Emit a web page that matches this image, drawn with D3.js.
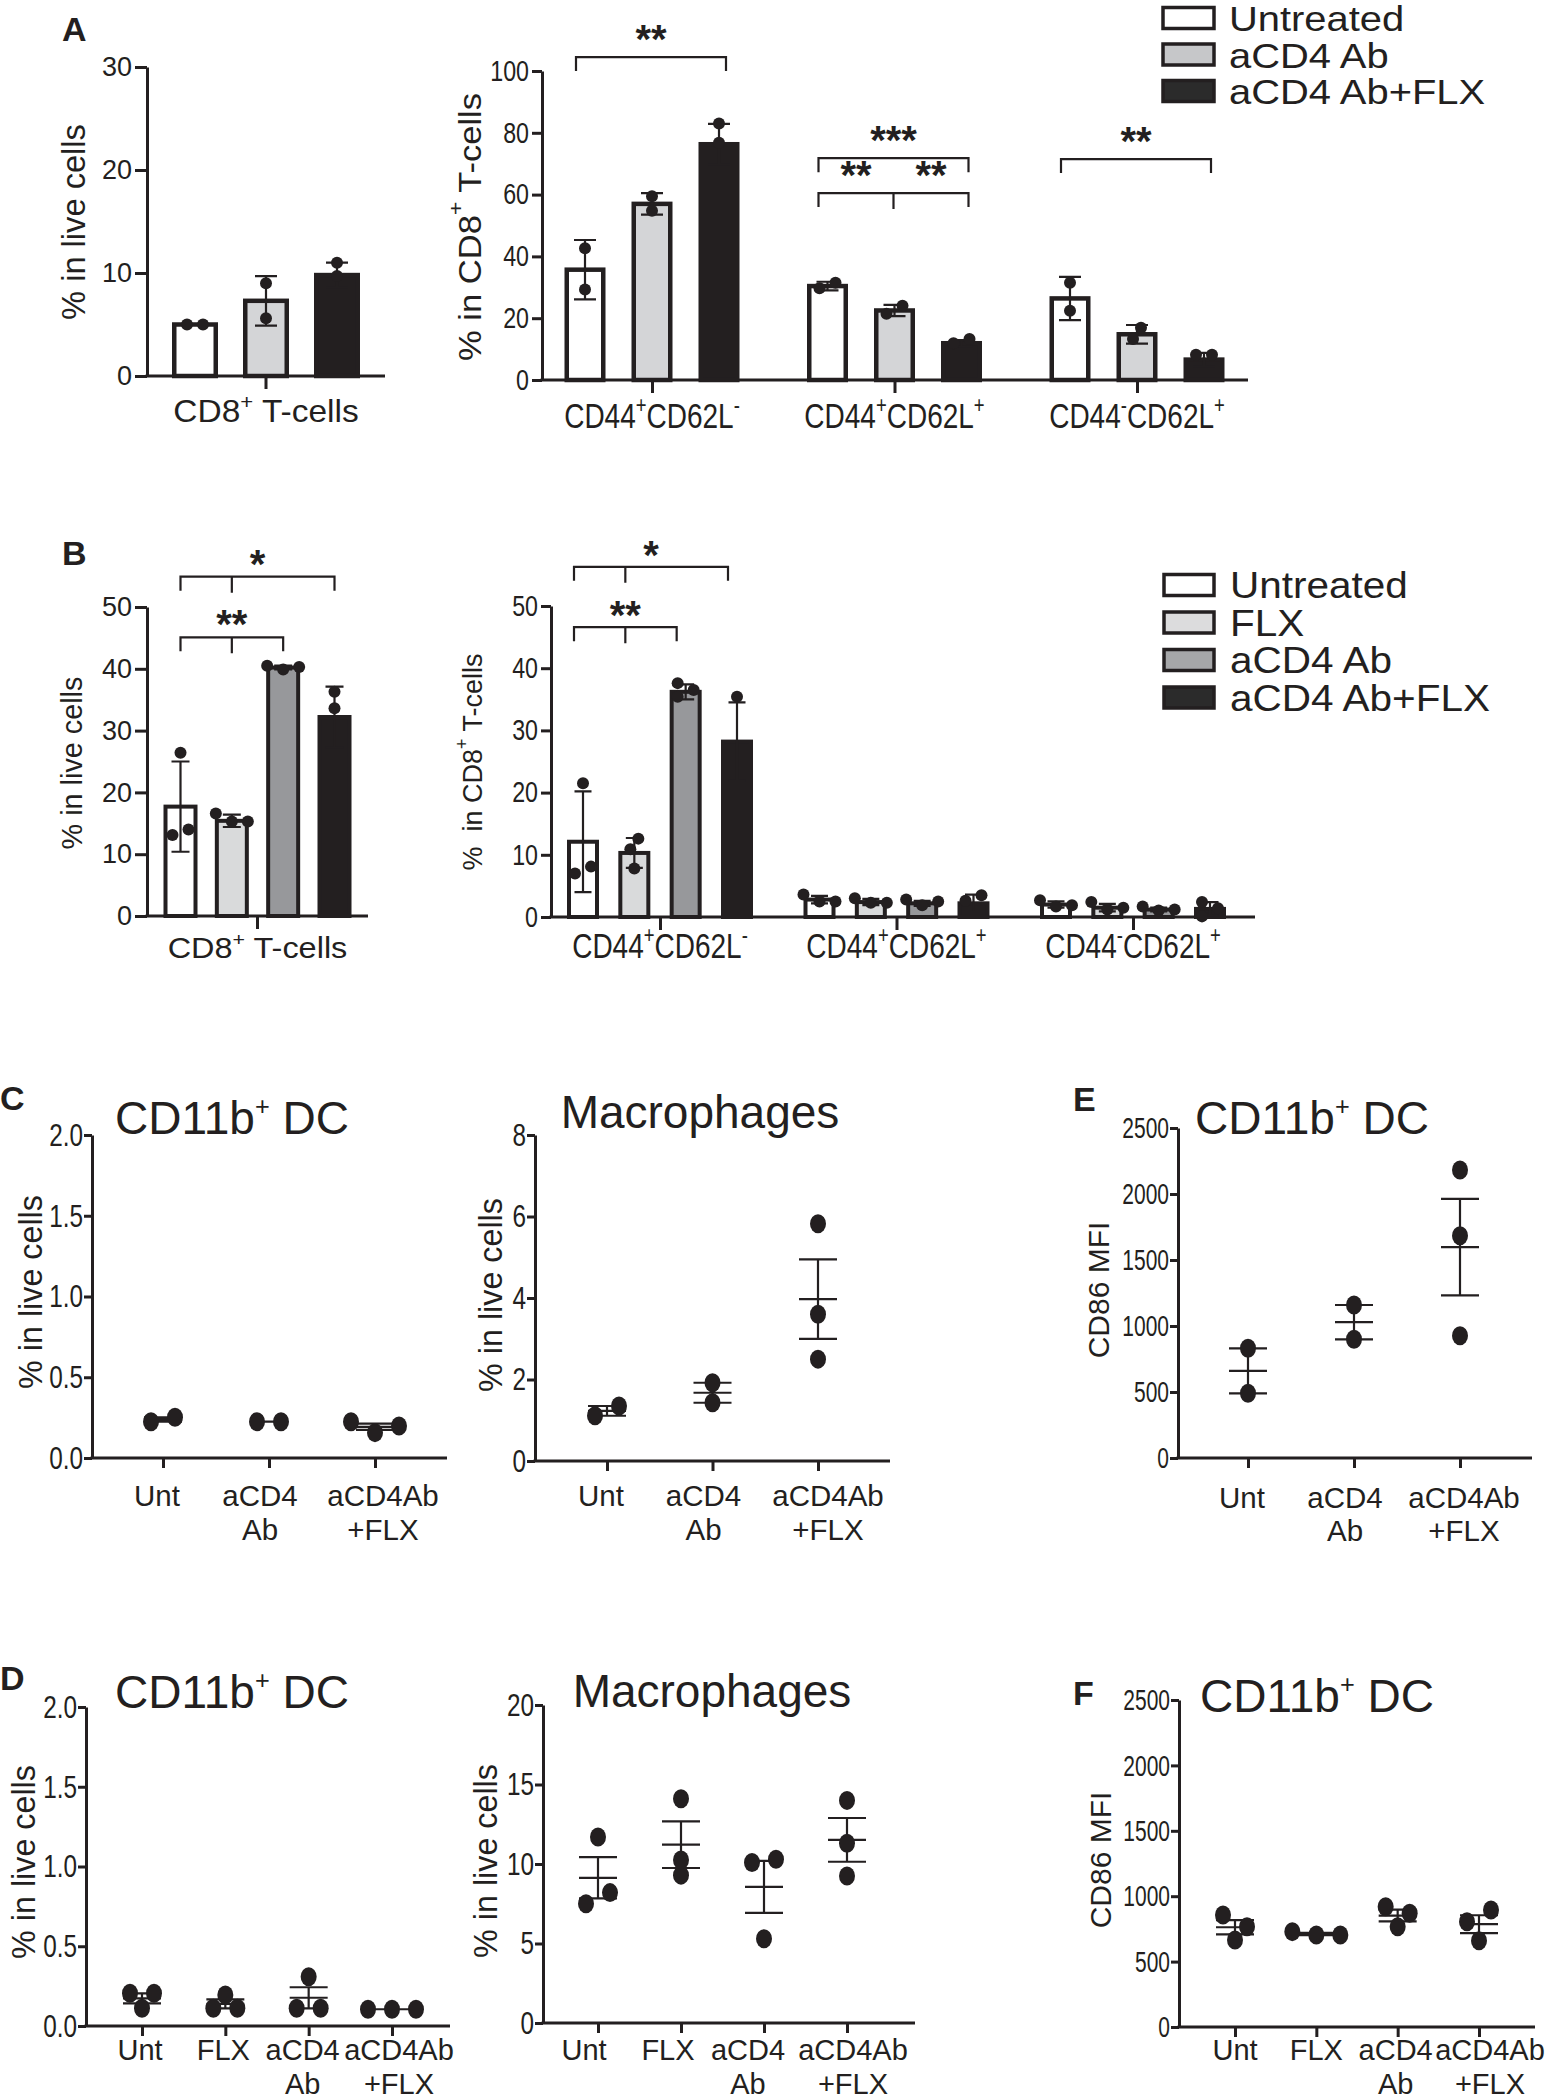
<!DOCTYPE html>
<html><head><meta charset="utf-8">
<script src="https://cdn.jsdelivr.net/npm/d3@7"></script>
<style>
html,body{margin:0;padding:0;background:#fff;}
svg{display:block;}
text{font-family:"Liberation Sans", Arial, Helvetica, sans-serif;}
</style></head><body>
<svg id="fig" width="1548" height="2100"></svg>
<script>
// ================= DATA =================
// ---- Panel A, left: CD8+ T-cells (% in live cells), mean ± SD with individual mice
const seriesA = ["Untreated", "aCD4 Ab", "aCD4 Ab+FLX"];
const a1Groups = ["CD8^{+} T-cells"];
const a1Mean = [[5.0, 7.3, 9.8]];
const a1Sd = [[0.0, 2.4, 1.2]];
const a1Points = [[[5.0, 5.0], [9.0, 5.6], [11.0, 9.7]]];
const a1Ticks = [0, 10, 20, 30];

// ---- Panel A, right: subsets (% in CD8+ T-cells)
const a2Groups = ["CD44^{+}CD62L^{-}", "CD44^{+}CD62L^{+}", "CD44^{-}CD62L^{+}"];
const a2Mean = [[35.7, 57.0, 76.3], [30.4, 22.5, 11.9], [26.4, 14.8, 6.6]];
const a2Sd = [[9.6, 3.5, 6.6], [1.4, 1.8, 1.0], [7.0, 3.0, 2.2]];
const a2Points = [
  [[42.6, 29.3], [59.5, 54.8], [83.0, 76.8]],
  [[29.7, 31.5], [21.4, 24.0], [13.3, 11.9]],
  [[31.5, 22.4], [16.9, 13.3], [8.2, 8.2]]
];
const a2Ticks = [0, 20, 40, 60, 80, 100];
const a2Sig = [
  {group: 0, from: 0, to: 2, level: 104.5, labels: ["**"]},
  {group: 1, from: 0, to: 2, level: 71.8, labels: ["***"]},
  {group: 1, from: 0, to: 2, mid: 1, level: 60.5, labels: ["**", "**"]},
  {group: 2, from: 0, to: 2, level: 71.5, labels: ["**"]}
];

// ---- Panel B, left
const seriesB = ["Untreated", "FLX", "aCD4 Ab", "aCD4 Ab+FLX"];
const b1Groups = ["CD8^{+} T-cells"];
const b1Mean = [[17.7, 15.4, 40.2, 32.2]];
const b1Sd = [[7.3, 1.0, 0.3, 4.9]];
const b1Points = [[[26.4, 13.1, 14.0], [16.6, 15.3, 15.3], [39.9, 40.5, 40.3], [36.3, 33.6]]];
const b1Ticks = [0, 10, 20, 30, 40, 50];
const b1Sig = [
  {group: 0, from: 0, to: 3, mid: 1, level: 54.9, labels: ["*"]},
  {group: 0, from: 0, to: 2, mid: 1, level: 45.1, labels: ["**"]}
];

// ---- Panel B, right
const b2Groups = ["CD44^{+}CD62L^{-}", "CD44^{+}CD62L^{+}", "CD44^{-}CD62L^{+}"];
const b2Mean = [[12.1, 10.3, 36.2, 28.2], [2.8, 2.4, 2.2, 2.2], [2.0, 1.5, 1.2, 1.3]];
const b2Sd = [[8.1, 2.4, 1.2, 6.3], [0.6, 0.5, 0.4, 1.4], [0.5, 0.6, 0.3, 1.1]];
const b2Points = [
  [[21.5, 7.0, 8.1], [12.6, 10.9, 7.8], [37.6, 35.4, 36.5], [35.4]],
  [[3.6, 2.5, 2.5], [3.0, 2.3, 2.3], [2.8, 2.5, 1.9], [3.5, 2.6]],
  [[2.7, 1.7, 1.9], [2.4, 1.2, 1.5], [1.7, 1.05, 1.2], [2.4, 1.4, 0.1]]
];
const b2Ticks = [0, 10, 20, 30, 40, 50];
const b2Sig = [
  {group: 0, from: 0, to: 3, mid: 1, level: 56.3, labels: ["*"]},
  {group: 0, from: 0, to: 2, mid: 1, level: 46.6, labels: ["**"]}
];

// ---- Panels C-F: scatter dot plots (mean ± SEM computed from the points)
const cats3 = ["Unt", "aCD4 Ab", "aCD4Ab +FLX"];
const cats3Lines = [["Unt"], ["aCD4", "Ab"], ["aCD4Ab", "+FLX"]];
const cats4 = ["Unt", "FLX", "aCD4 Ab", "aCD4Ab +FLX"];
const cats4Lines = [["Unt"], ["FLX"], ["aCD4", "Ab"], ["aCD4Ab", "+FLX"]];

const cDC = [[0.225, 0.252], [0.225, 0.225], [0.157, 0.225, 0.198]];
const cMac = [[1.11, 1.35], [1.92, 1.43], [5.82, 3.60, 2.50]];
const eMFI = [[831, 490], [1159, 899], [2182, 1684, 926]];
const dDC = [[0.205, 0.205, 0.111], [0.194, 0.111, 0.111], [0.309, 0.111, 0.111], [0.105, 0.105, 0.105]];
const dMac = [[11.7, 7.5, 8.2], [14.1, 9.3, 10.25], [10.3, 10.1, 5.3], [14.0, 11.3, 9.25]];
const fMFI = [[856, 767, 665], [703, 729, 703], [920, 869, 767], [894, 805, 660]];

const dcTicks = [0, 0.5, 1.0, 1.5, 2.0];
const cMacTicks = [0, 2, 4, 6, 8];
const dMacTicks = [0, 5, 10, 15, 20];
const mfiTicks = [0, 500, 1000, 1500, 2000, 2500];

const fillsA = ["#ffffff", "#d4d5d7", "#231f20"];
const fillsB = ["#ffffff", "#d9dadb", "#97989b", "#231f20"];
const legFillsA = ["#ffffff", "#c6c7c9", "#2b2b2b"];
const legFillsB = ["#ffffff", "#dcdcdd", "#a6a7a9", "#2b2b2b"];

// ================= HELPERS =================
const INK = "#231f20";
const svg = d3.select("#fig");

function parseRich(s) {
  const out = []; const re = /\^\{([^}]*)\}/g; let last = 0, m;
  while ((m = re.exec(s))) {
    if (m.index > last) out.push({t: s.slice(last, m.index), sup: false});
    out.push({t: m[1], sup: true}); last = re.lastIndex;
  }
  if (last < s.length) out.push({t: s.slice(last), sup: false});
  return out;
}

function label(parent, x, y, s, o) {
  o = Object.assign({size: 24, anchor: "middle", weight: "normal", sx: 1, rot: 0, base: null, supScale: 0.66, supRise: 0.42}, o || {});
  const g = parent.append("g").attr("transform", `translate(${x},${y}) rotate(${o.rot}) scale(${o.sx},1)`);
  const t = g.append("text").attr("text-anchor", o.anchor).attr("font-size", o.size)
    .attr("font-weight", o.weight).attr("fill", INK).style("white-space", "pre");
  if (o.base) t.attr("dominant-baseline", o.base);
  let raised = false;
  parseRich(s).forEach(p => {
    const ts = t.append("tspan").text(p.t);
    if (p.sup) { ts.attr("font-size", o.size * o.supScale).attr("dy", -o.size * o.supRise); raised = true; }
    else if (raised) { ts.attr("dy", o.size * o.supRise); raised = false; }
  });
  return g;
}

function yAxis(g, y, x0, ticks, o) {
  o = Object.assign({size: 24, sx: 1, tick: 12, pad: 3, fmt: d3.format("")}, o || {});
  const ax = g.append("g").attr("transform", `translate(${x0},0)`)
    .call(d3.axisLeft(y).tickValues(ticks).tickSize(o.tick).tickSizeOuter(0).tickPadding(o.pad).tickFormat(o.fmt));
  ax.select(".domain").attr("stroke", INK).attr("stroke-width", 3);
  ax.selectAll(".tick line").attr("stroke", INK).attr("stroke-width", 3);
  ax.selectAll(".tick text").attr("font-size", o.size).attr("fill", INK)
    .attr("font-family", '"Liberation Sans", Arial, sans-serif')
    .attr("x", -(o.tick + o.pad) / o.sx).attr("transform", `scale(${o.sx},1)`);
  return ax;
}

function xAxis(g, xs, x0, x1, y0, tick) {
  g.append("line").attr("x1", x0 - 1.5).attr("x2", x1).attr("y1", y0).attr("y2", y0)
    .attr("stroke", INK).attr("stroke-width", 3);
  const ax = g.append("g").attr("transform", `translate(0,${y0})`)
    .call(d3.axisBottom(xs).tickSize(tick).tickSizeOuter(0).tickFormat(""));
  ax.select(".domain").remove();
  ax.selectAll(".tick line").attr("stroke", INK).attr("stroke-width", 3);
}

// beeswarm offsets (pixel) for a set of values
function swarm(vals, y, step, A, B) {
  const pts = vals.map((v, i) => ({i, py: y(v), dx: 0}));
  const order = pts.slice().sort((a, b) => b.py - a.py);
  const placed = [];
  for (const p of order) {
    for (let k = 0; k < 30; k++) {
      const off = k === 0 ? 0 : (k % 2 ? 1 : -1) * Math.ceil(k / 2) * step;
      const hit = placed.some(q => ((off - q.dx) / A) ** 2 + ((p.py - q.py) / B) ** 2 < 1);
      if (!hit) { p.dx = off; placed.push(p); break; }
    }
  }
  const sorted = placed.slice().sort((a, b) => a.py - b.py);
  let comp = [sorted[0]]; const comps = [comp];
  for (let j = 1; j < sorted.length; j++) {
    if (sorted[j].py - sorted[j - 1].py < B) comp.push(sorted[j]);
    else { comp = [sorted[j]]; comps.push(comp); }
  }
  comps.forEach(c => {
    const sh = (d3.min(c, d => d.dx) + d3.max(c, d => d.dx)) / 2;
    c.forEach(d => d.dx -= sh);
  });
  return pts.map(p => p.dx);
}

// ================= BAR PANELS =================
function barPanel(cfg) {
  const g = svg.append("g");
  const y = d3.scaleLinear().domain([0, cfg.ticks[cfg.ticks.length - 1]]).range(cfg.yRange);
  const gx = cfg.single
    ? d3.scaleBand().domain(cfg.groups).range([cfg.axisX, cfg.xEnd])
    : d3.scalePoint().domain(cfg.groups).range(cfg.groupRange);
  const gc = d => cfg.single ? gx(d) + gx.bandwidth() / 2 : gx(d);
  const sxs = d3.scalePoint().domain(cfg.series).range(cfg.offRange);
  const cx = (gi, si) => gc(cfg.groups[gi]) + sxs(cfg.series[si]);

  yAxis(g, y, cfg.axisX, cfg.ticks, cfg.tickOpt);
  xAxis(g, gx, cfg.axisX, cfg.xEnd, y(0), 13);

  const sw = cfg.sw, bw = cfg.barW;
  cfg.groups.forEach((grp, gi) => cfg.series.forEach((s, si) => {
    const m = cfg.mean[gi][si];
    g.append("rect").attr("x", cx(gi, si) - bw / 2 + sw / 2).attr("width", bw - sw)
      .attr("y", y(m)).attr("height", y(0) - y(m))
      .attr("fill", cfg.fills[si]).attr("stroke", INK).attr("stroke-width", sw);
  }));
  cfg.groups.forEach((grp, gi) => cfg.series.forEach((s, si) => {
    const m = cfg.mean[gi][si], sd = cfg.sd[gi][si], c = cx(gi, si), hw = cfg.capW / 2;
    if (sd <= 0) return;
    g.append("path").attr("fill", "none").attr("stroke", INK).attr("stroke-width", 2.2)
      .attr("d", `M${c},${y(m - sd)}V${y(m + sd)}M${c - hw},${y(m + sd)}H${c + hw}M${c - hw},${y(m - sd)}H${c + hw}`);
  }));
  cfg.groups.forEach((grp, gi) => cfg.series.forEach((s, si) => {
    const vals = cfg.points[gi][si];
    const offs = swarm(vals, y, 8, 16, 12);
    vals.forEach((v, k) => g.append("circle").attr("cx", cx(gi, si) + offs[k]).attr("cy", y(v))
      .attr("r", 6).attr("fill", INK));
  }));
  cfg.groups.forEach(grp => label(g, gc(grp), cfg.labY, grp, cfg.labOpt));
  const sh = cfg.shift || 0;
  (cfg.sig || []).forEach(sg => {
    const xL = cx(sg.group, sg.from) - cfg.widen + sh, xR = cx(sg.group, sg.to) + cfg.widen + sh;
    const yy = y(sg.level), leg = 14;
    let d = `M${xL},${yy + leg}V${yy}H${xR}V${yy + leg}`;
    if (sg.mid != null) d += `M${cx(sg.group, sg.mid) + sh},${yy}V${yy + leg + 2}`;
    g.append("path").attr("d", d).attr("fill", "none").attr("stroke", INK).attr("stroke-width", 2.2);
    const so = {size: 40, weight: "bold"};
    if (sg.labels.length === 1) {
      label(g, (xL + xR) / 2, yy + cfg.starDy, sg.labels[0], so);
    } else {
      const xm = cx(sg.group, sg.mid) + sh;
      label(g, (xL + xm) / 2, yy + cfg.starDy, sg.labels[0], so);
      label(g, (xm + xR) / 2, yy + cfg.starDy, sg.labels[1], so);
    }
  });
  return g;
}

// Panel A left
const gA1 = barPanel({single: true, groups: a1Groups, series: seriesA, mean: a1Mean, sd: a1Sd, points: a1Points,
  ticks: a1Ticks, yRange: [376, 67], axisX: 147, xEnd: 385, offRange: [-71, 71], barW: 46, sw: 4.5, capW: 22,
  fills: fillsA, tickOpt: {size: 27, tick: 12, pad: 3}, labY: 422, labOpt: {size: 31, sx: 1.08}, widen: 0, starDy: -4});
label(gA1, 73, 222, "% in live cells", {size: 34, sx: 0.96, rot: -90, base: "central"});
label(gA1, 62, 41, "A", {size: 34, weight: "bold", anchor: "start"});

// Panel A right
const gA2 = barPanel({groups: a2Groups, series: seriesA, mean: a2Mean, sd: a2Sd, points: a2Points,
  ticks: a2Ticks, yRange: [380, 71], axisX: 542, xEnd: 1248, groupRange: [652, 1137], offRange: [-67, 67],
  barW: 41, sw: 4.5, capW: 22, fills: fillsA, tickOpt: {size: 29, sx: 0.8, tick: 10, pad: 3},
  labY: 428, labOpt: {size: 35, sx: 0.8}, sig: a2Sig, widen: 8, shift: -1, starDy: -4});
label(gA2, 469, 227, "% in CD8^{+} T-cells", {size: 32, sx: 1.08, rot: -90, base: "central"});

// Legend A
const legA = svg.append("g");
seriesA.forEach((s, i) => {
  const cy = 18 + i * 36.5;
  legA.append("rect").attr("x", 1163).attr("y", cy - 10.5).attr("width", 51).attr("height", 21)
    .attr("fill", legFillsA[i]).attr("stroke", INK).attr("stroke-width", 3.5);
  label(legA, 1229, cy + 13, s, {size: 35, sx: 1.14, anchor: "start"});
});

// Panel B left
const gB1 = barPanel({single: true, groups: b1Groups, series: seriesB, mean: b1Mean, sd: b1Sd, points: b1Points,
  ticks: b1Ticks, yRange: [916, 607], axisX: 147, xEnd: 368, offRange: [-77, 77], barW: 34, sw: 4, capW: 18,
  fills: fillsB, tickOpt: {size: 27, tick: 12, pad: 3}, labY: 958, labOpt: {size: 29, sx: 1.12}, sig: b1Sig, widen: 0, starDy: 1});
label(gB1, 71, 763, "% in live cells", {size: 30, sx: 0.96, rot: -90, base: "central"});
label(gB1, 62, 565, "B", {size: 34, weight: "bold", anchor: "start"});

// Panel B right
const gB2 = barPanel({groups: b2Groups, series: seriesB, mean: b2Mean, sd: b2Sd, points: b2Points,
  ticks: b2Ticks, yRange: [917, 606], axisX: 551, xEnd: 1255, groupRange: [660, 1133], offRange: [-77, 77],
  barW: 32, sw: 4, capW: 17, fills: fillsB, tickOpt: {size: 29, sx: 0.8, tick: 10, pad: 3},
  labY: 958, labOpt: {size: 35, sx: 0.8}, sig: b2Sig, widen: 0, shift: -9, starDy: 2});
label(gB2, 473, 762, "% \u00a0in CD8^{+} T-cells", {size: 27, rot: -90, base: "central"});

// Legend B
const legB = svg.append("g");
seriesB.forEach((s, i) => {
  const cy = 585 + i * 37.5;
  legB.append("rect").attr("x", 1164).attr("y", cy - 10.5).attr("width", 50).attr("height", 21)
    .attr("fill", legFillsB[i]).attr("stroke", INK).attr("stroke-width", 3.5);
  label(legB, 1230, cy + 13, s, {size: 36.5, sx: 1.11, anchor: "start"});
});

// ================= SCATTER PANELS =================
function scatterPanel(cfg) {
  const g = svg.append("g");
  const y = d3.scaleLinear().domain([0, cfg.ticks[cfg.ticks.length - 1]]).range(cfg.yRange);
  const x = d3.scalePoint().domain(cfg.cats).range(cfg.xRange);
  yAxis(g, y, cfg.axisX, cfg.ticks, Object.assign({size: 32, sx: 0.76, tick: 8, pad: 1, fmt: cfg.fmt}, cfg.tickOpt || {}));
  xAxis(g, x, cfg.axisX, cfg.xEnd, y(0), 10);
  const hw = 19;
  cfg.data.forEach((vals, i) => {
    const c = x(cfg.cats[i]);
    const m = d3.mean(vals);
    const se = vals.length > 1 ? (d3.deviation(vals) || 0) / Math.sqrt(vals.length) : 0;
    g.append("path").attr("fill", "none").attr("stroke", INK).attr("stroke-width", 2.2)
      .attr("d", `M${c - hw},${y(m)}H${c + hw}M${c},${y(m - se)}V${y(m + se)}M${c - hw},${y(m + se)}H${c + hw}M${c - hw},${y(m - se)}H${c + hw}`);
    const offs = swarm(vals, y, 12, 24, 15);
    vals.forEach((v, k) => g.append("ellipse").attr("cx", c + offs[k]).attr("cy", y(v))
      .attr("rx", 8).attr("ry", 9.5).attr("fill", INK));
  });
  cfg.lines.forEach((ls, i) => ls.forEach((ln, j) =>
    label(g, x(cfg.cats[i]) + cfg.labDx[i], cfg.labY[j], ln, {size: cfg.labSize || 29.5})));
  label(g, cfg.title[1], cfg.title[2], cfg.title[0], {size: 46, supScale: 0.55, supRise: 0.42});
  label(g, cfg.ylab[1], cfg.ylab[2], cfg.ylab[0], {size: cfg.ylab[3], sx: cfg.ylab[4], rot: -90, base: "central"});
  if (cfg.letter) label(g, cfg.letter[1], cfg.letter[2], cfg.letter[0], {size: 34, weight: "bold", anchor: "start"});
  return g;
}

const f1 = d3.format(".1f"), f0 = d3.format("d");
const mfiTickOpt = {size: 30, sx: 0.7};

scatterPanel({cats: cats3, lines: cats3Lines, data: cDC, ticks: dcTicks, fmt: f1, labDx: [-6, -9, 8],
  yRange: [1458, 1135], axisX: 92, xEnd: 447, xRange: [163, 375], labY: [1506, 1540],
  title: ["CD11b^{+} DC", 232, 1134], ylab: ["% in live cells", 30, 1292, 34, 0.95], letter: ["C", 0, 1110]});
scatterPanel({cats: cats3, lines: cats3Lines, data: cMac, ticks: cMacTicks, fmt: f0, labDx: [-6, -9, 10],
  yRange: [1461, 1135], axisX: 535, xEnd: 890, xRange: [607, 818], labY: [1506, 1540],
  title: ["Macrophages", 700, 1128], ylab: ["% in live cells", 490, 1295, 34, 0.95]});
scatterPanel({cats: cats3, lines: cats3Lines, data: eMFI, ticks: mfiTicks, fmt: f0, labDx: [-6, -9, 4], tickOpt: mfiTickOpt,
  yRange: [1458, 1128], axisX: 1178, xEnd: 1532, xRange: [1248, 1460], labY: [1508, 1541],
  title: ["CD11b^{+} DC", 1312, 1134], ylab: ["CD86 MFI", 1098, 1290, 30, 1.0], letter: ["E", 1073, 1111]});
scatterPanel({cats: cats4, lines: cats4Lines, data: dDC, ticks: dcTicks, fmt: f1, labDx: [-2, -2, -6, 7], labSize: 29,
  yRange: [2026, 1707], axisX: 86, xEnd: 450, xRange: [142, 392], labY: [2060, 2094],
  title: ["CD11b^{+} DC", 232, 1708], ylab: ["% in live cells", 23, 1862, 34, 0.95], letter: ["D", 0, 1690]});
scatterPanel({cats: cats4, lines: cats4Lines, data: dMac, ticks: dMacTicks, fmt: f0, labDx: [-14, -13, -16, 6], labSize: 29,
  yRange: [2023, 1705], axisX: 543, xEnd: 915, xRange: [598, 847], labY: [2060, 2094],
  title: ["Macrophages", 712, 1707], ylab: ["% in live cells", 485, 1861, 34, 0.95]});
scatterPanel({cats: cats4, lines: cats4Lines, data: fMFI, ticks: mfiTicks, fmt: f0, labDx: [0, 0, -2, 11], labSize: 29, tickOpt: mfiTickOpt,
  yRange: [2027, 1700], axisX: 1179, xEnd: 1535, xRange: [1235, 1479], labY: [2060, 2094],
  title: ["CD11b^{+} DC", 1317, 1712], ylab: ["CD86 MFI", 1100, 1860, 30, 1.0], letter: ["F", 1073, 1705]});
</script>
</body></html>
